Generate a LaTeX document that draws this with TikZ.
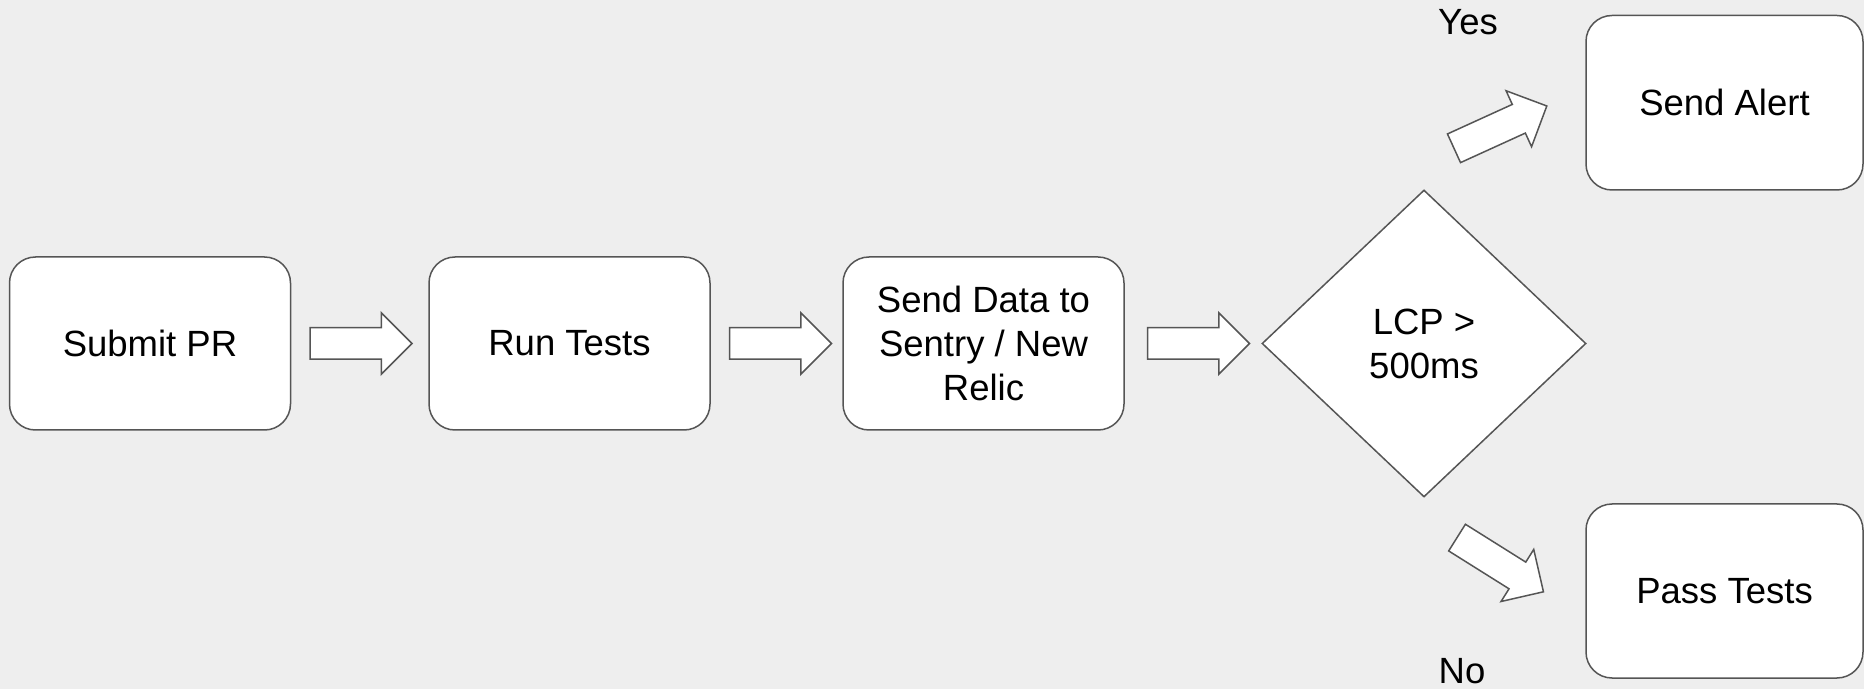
\documentclass[tikz,border=0pt]{standalone}
\usepackage{fontspec}
\setmainfont{Liberation Sans}
\usetikzlibrary{shapes.geometric,shapes.arrows,calc}
\definecolor{bg}{HTML}{EEEEEE}
\definecolor{edgec}{HTML}{555555}
\tikzset{
  txt/.style={font=\fontsize{18.25}{22}\selectfont},
  box/.style={txt, draw=edgec, fill=white, line width=0.75pt, rounded corners=13pt,
    minimum width=140.5pt, minimum height=86.5pt, align=center, inner sep=0pt},
  decision/.style={txt, diamond, draw=edgec, fill=white, line width=0.75pt,
    minimum width=162pt, minimum height=153.5pt, inner sep=0pt, align=center},
  blockarrow/.style={single arrow, draw=edgec, fill=white, line width=0.75pt,
    inner sep=7.5pt, minimum height=51pt, single arrow head extend=7.5pt, anchor=tail},
  lbl/.style={txt, inner sep=0pt}
}
\begin{document}
\begin{tikzpicture}[x=0.5pt,y=-0.5pt]
  \fill[bg] (0,0) rectangle (1864,689);
  \useasboundingbox (0,0) rectangle (1864,689);
  \node[box] (submit) at (150,343.5) {Submit PR};
  \node[box] (run) at (569.5,343.5) {Run Tests};
  \node[box] (senddata) at (983.5,343.5) {Send Data to\\Sentry / New\\Relic};
  \node[decision] (lcp) at (1424,343.5) {LCP >\\500ms};
  \node[box, minimum width=138.5pt, minimum height=87.25pt] (alert) at (1724.5,102.75) {Send Alert};
  \node[box, minimum width=138.5pt, minimum height=87pt] (pass) at (1724.5,591) {Pass Tests};
  \node[blockarrow] (a1) at ($(submit.east)+(18,0)$) {};
  \node[blockarrow] (a2) at ($(run.east)+(18,0)$) {};
  \node[blockarrow] (a3) at ($(senddata.east)+(22,0)$) {};
  \node[blockarrow, rotate=24.5] (ayes) at (1453.3,148.6) {};
  \node[blockarrow, rotate=-32.1] (ano) at (1456.4,537.2) {};
  \node[lbl] (yes) at (1468,22) {Yes};
  \node[lbl] (no) at (1462,671) {No};
\end{tikzpicture}
\end{document}
